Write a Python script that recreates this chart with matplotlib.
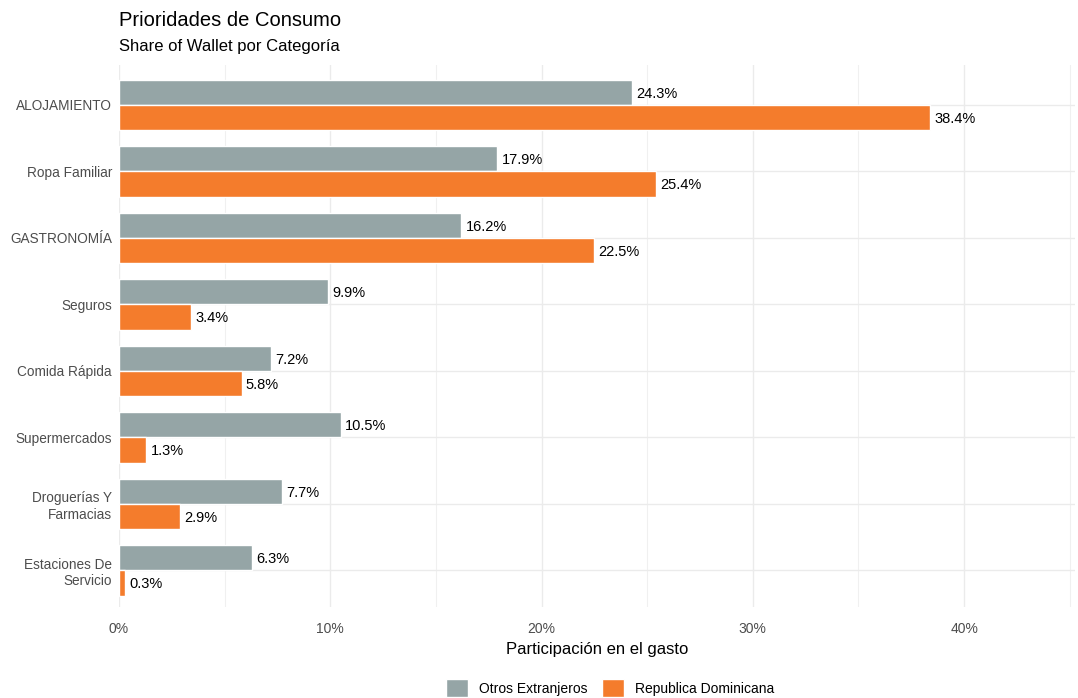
import matplotlib.pyplot as plt
import numpy as np
from matplotlib.patches import Patch

plt.rcParams['font.family'] = ['Liberation Sans', 'DejaVu Sans']

categorias = ['ALOJAMIENTO', 'Ropa Familiar', 'GASTRONOMÍA', 'Seguros',
              'Comida Rápida', 'Supermercados', 'Droguerías Y\nFarmacias',
              'Estaciones De\nServicio']
otros = [24.3, 17.9, 16.2, 9.9, 7.2, 10.5, 7.7, 6.3]
rd = [38.4, 25.4, 22.5, 3.4, 5.8, 1.3, 2.9, 0.3]
series = ['Otros Extranjeros', 'Republica Dominicana']
colores = ['#95A5A6', '#F47C2C']

fig = plt.figure(figsize=(10.78, 6.98), dpi=100)
ax = fig.add_axes([119 / 1078, 1 - 607 / 698, (1075 - 119) / 1078, (607 - 65) / 698])

y = np.arange(len(categorias))
h = 0.38
for vals, off, col in [(otros, -h / 2, colores[0]), (rd, h / 2, colores[1])]:
    bars = ax.barh(y + off, vals, height=h, color=col, edgecolor='white',
                   linewidth=1, zorder=3)
    for b, v in zip(bars, vals):
        ax.text(v + 0.2, b.get_y() + b.get_height() / 2 + 0.02, f'{v:.1f}%',
                va='center', ha='left', fontsize=10.5, color='black', zorder=4)

ax.set_ylim(len(categorias) - 1 + 0.55, -0.6)
ax.set_xlim(0, 45.25)
ax.set_yticks(y)
ax.set_yticklabels(categorias, fontsize=9.8, color='#4d4d4d')
ax.set_xticks([0, 10, 20, 30, 40])
ax.set_xticklabels(['0%', '10%', '20%', '30%', '40%'], fontsize=10, color='#4d4d4d')
ax.set_xticks([5, 15, 25, 35, 45], minor=True)
ax.tick_params(axis='y', which='both', length=0, pad=5)
ax.tick_params(axis='x', which='both', length=0, pad=11)
ax.grid(axis='x', which='major', color='#ebebeb', linewidth=1, zorder=0)
ax.grid(axis='x', which='minor', color='#f0f0f0', linewidth=0.8, zorder=0)
ax.grid(axis='y', which='major', color='#ebebeb', linewidth=1, zorder=0)
for s in ax.spines.values():
    s.set_visible(False)

ax.set_xlabel('Participación en el gasto', fontsize=12, labelpad=4)

fig.text(119 / 1078, 1 - 21 / 698, 'Prioridades de Consumo', fontsize=14.5,
         va='center', ha='left')
fig.text(119 / 1078, 1 - 47 / 698, 'Share of Wallet por Categoría', fontsize=12,
         va='center', ha='left')

handles = [Patch(facecolor=c, edgecolor='white', label=s) for c, s in zip(colores, series)]
fig.legend(handles=handles, loc='center', bbox_to_anchor=(610 / 1078, 1 - 688 / 698),
           ncol=2, frameon=False, fontsize=10, handlelength=1.6, handleheight=1.6,
           columnspacing=1.0, handletextpad=0.8)

plt.savefig('out.png', dpi=100)
